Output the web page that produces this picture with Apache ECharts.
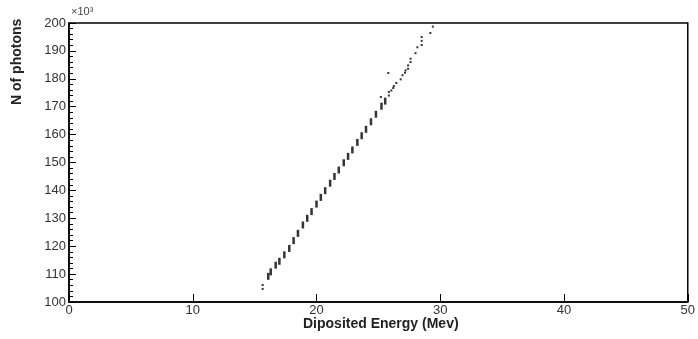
<!DOCTYPE html>
<html>
<head>
<meta charset="utf-8">
<script src="https://cdn.jsdelivr.net/npm/echarts@6/dist/echarts.min.js"></script>
<style>
  html, body { margin: 0; padding: 0; background: #fff; }
  #main { width: 698px; height: 339px; }
</style>
</head>
<body>
<div id="main"></div>
<script>
// x ticks (MeV) and y ticks (x10^3 photons)
const xTicks = [0, 10, 20, 30, 40, 50];
const yTicks = [100, 110, 120, 130, 140, 150, 160, 170, 180, 190, 200];

// dense part of the band: each point is drawn as a short vertical dash
const dashEnergy = [16.1, 16.3, 16.7, 17.0, 17.4, 17.8, 18.15, 18.5, 18.9, 19.25, 19.6, 20.0, 20.35, 20.7,
  21.1, 21.45, 21.8, 22.2, 22.55, 22.9, 23.3, 23.65, 24.0, 24.4, 24.8, 25.25, 25.55];
const dashPhotons = [109.2, 110.8, 113.2, 114.6, 116.9, 119.2, 122.0, 124.6, 127.6, 130.0, 132.4, 135.1, 137.5, 139.9,
  142.6, 145.0, 147.3, 149.9, 152.2, 154.5, 157.2, 159.6, 161.9, 164.6, 167.3, 170.2, 172.0];

// single points (both ends of the band and the outlier)
const dotEnergy = [15.65, 15.65, 25.2, 25.8, 25.85, 25.85, 26.05, 26.2, 26.25, 26.45, 26.8, 26.95, 27.15, 27.2,
  27.4, 27.4, 27.6, 27.6, 28.0, 28.15, 28.5, 28.5, 28.5, 29.2, 29.4];
const dotPhotons = [106.1, 104.7, 173.5, 182.1, 174.0, 175.3, 175.8, 176.7, 177.4, 178.5, 179.8, 181.3, 182.2, 183.0,
  183.6, 184.8, 186.0, 187.2, 189.2, 191.3, 192.1, 193.6, 195.0, 196.4, 198.7];

const font = 'Liberation Sans';

function pairs(xs, ys) {
  return xs.map((x, i) => [x, ys[i]]);
}

const chart = echarts.init(document.getElementById('main'), null, { renderer: 'canvas' });

const option = {
  animation: false,
  grid: {
    left: 69, right: 8, top: 23, bottom: 37,
    show: true,
    borderColor: '#000',
    borderWidth: 1.5,
    backgroundColor: '#fff'
  },
  xAxis: {
    type: 'value',
    min: xTicks[0],
    max: xTicks[xTicks.length - 1],
    interval: 10,
    axisLine: { onZero: false, lineStyle: { color: '#000', width: 1.5 } },
    axisTick: { inside: true, length: 8, lineStyle: { color: '#000', width: 1 } },
    axisLabel: { color: '#333', fontFamily: font, fontSize: 13, margin: 2 },
    splitLine: { show: false }
  },
  yAxis: {
    type: 'value',
    min: yTicks[0],
    max: yTicks[yTicks.length - 1],
    interval: 10,
    axisLine: { onZero: false, lineStyle: { color: '#000', width: 1.5 } },
    axisTick: { inside: true, length: 7, lineStyle: { color: '#000', width: 1 } },
    minorTick: { show: true, splitNumber: 5, length: 4, lineStyle: { color: '#000', width: 1 } },
    axisLabel: { color: '#333', fontFamily: font, fontSize: 13, margin: 3 },
    splitLine: { show: false }
  },
  graphic: [
    {
      type: 'text', left: 71, top: 6,
      style: { text: '×10³', fill: '#444', font: '11px "Liberation Sans"' }
    },
    {
      type: 'text', left: 303, top: 317,
      style: { text: 'Diposited Energy (Mev)', fill: '#222', font: 'bold 14px "Liberation Sans"' }
    },
    {
      type: 'text', x: 10, y: 105, rotation: Math.PI / 2,
      style: { text: 'N of photons', fill: '#222', font: 'bold 14px "Liberation Sans"' }
    }
  ],
  series: [
    {
      type: 'scatter',
      data: pairs(dashEnergy, dashPhotons),
      symbol: 'rect',
      symbolSize: [2.5, 7],
      itemStyle: { color: '#000' }
    },
    {
      type: 'scatter',
      data: pairs(dotEnergy, dotPhotons),
      symbol: 'rect',
      symbolSize: [2, 2],
      itemStyle: { color: '#000' }
    }
  ]
};

chart.setOption(option);
</script>
</body>
</html>
